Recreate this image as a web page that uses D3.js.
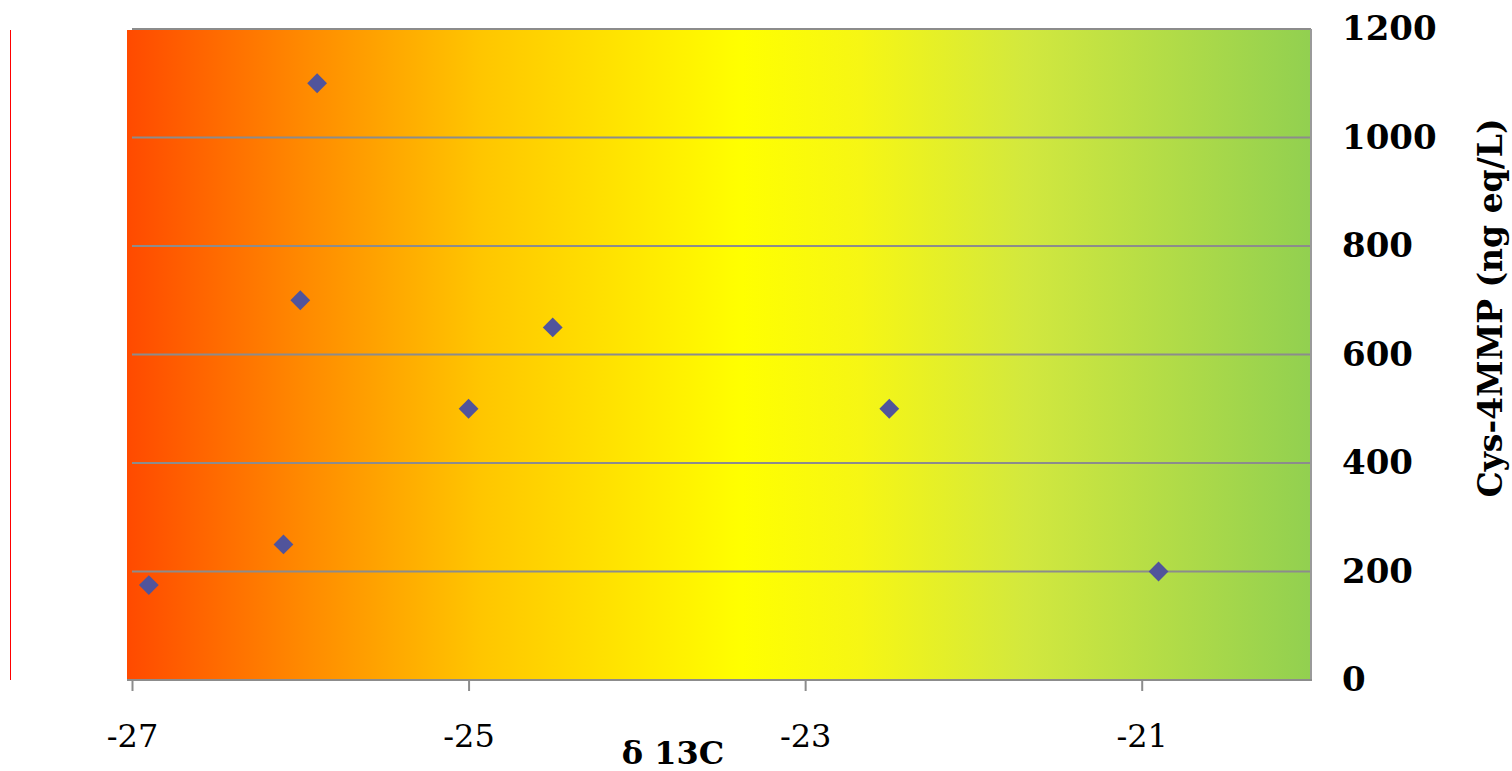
<!DOCTYPE html>
<html>
<head>
<meta charset="utf-8">
<script src="https://cdn.jsdelivr.net/npm/d3@7"></script>
<style>
  html, body { margin: 0; padding: 0; background: #fff; }
  svg { display: block; }
  text { font-family: "DejaVu Serif", serif; fill: #000; }
</style>
</head>
<body>
<svg id="chart" width="1512" height="771"></svg>
<script>
// δ13C versus Cys-4MMP concentration
const delta13C = [-26.9, -26.1, -25.9, -26.0, -25.0, -24.5, -22.5, -20.9];
const cys4mmp  = [175, 250, 1100, 700, 500, 650, 500, 200];
const xTicks = [-27, -25, -23, -21];
const yTicks = [0, 200, 400, 600, 800, 1000, 1200];
const xTitle = "δ 13C";
const yTitle = "Cys-4MMP (ng eq/L)";

const points = delta13C.map((d, i) => ({ x: d, y: cys4mmp[i] }));

const svg = d3.select("#chart");
const plotL = 132, plotR = 1310, plotT = 29, plotB = 680;

const x = d3.scaleLinear().domain([-27, -20]).range([plotL, plotR]);
const y = d3.scaleLinear().domain([0, 1200]).range([plotB, plotT]);

// background gradient: orange-red -> yellow -> green
const defs = svg.append("defs");
const grad = defs.append("linearGradient").attr("id", "bg")
  .attr("x1", "0%").attr("x2", "100%").attr("y1", "0%").attr("y2", "0%");
[
  [0, "#ff4a00"], [0.15, "#ff8a00"], [0.30, "#ffc600"],
  [0.52, "#ffff00"], [0.62, "#f6f614"], [0.76, "#d2e83e"], [1, "#92d050"]
].forEach(([o, c]) => grad.append("stop").attr("offset", o).attr("stop-color", c));

// stray red rule at far left
svg.append("line")
  .attr("x1", 10.5).attr("x2", 10.5).attr("y1", 30).attr("y2", 680)
  .attr("stroke", "#ff0000").attr("stroke-width", 1);

svg.append("rect")
  .attr("x", plotL - 5).attr("y", plotT + 1)
  .attr("width", plotR - plotL + 5).attr("height", plotB - plotT - 1)
  .attr("fill", "url(#bg)");

// horizontal gridlines
svg.append("g").selectAll("line")
  .data(yTicks.filter(t => t > 0))
  .join("line")
  .attr("x1", plotL).attr("x2", plotR + 1)
  .attr("y1", d => y(d)).attr("y2", d => y(d))
  .attr("stroke", "#8c8c8c").attr("stroke-width", 2);

// right border of plot area
svg.append("line")
  .attr("x1", plotR + 1).attr("x2", plotR + 1)
  .attr("y1", plotT).attr("y2", plotB)
  .attr("stroke", "#9a9a9a").attr("stroke-width", 2);

// x axis
const xAxis = d3.axisBottom(x).tickValues(xTicks).tickSize(11).tickPadding(33)
  .tickFormat(d => "-" + Math.abs(d));
const gx = svg.append("g").attr("transform", `translate(0,${plotB})`).call(xAxis);
gx.select(".domain").attr("d", `M${plotL - 5},0H${plotR + 2}`)
  .attr("stroke", "#8c8c8c").attr("stroke-width", 2);
gx.selectAll(".tick line").attr("stroke", "#8c8c8c").attr("stroke-width", 2);
gx.selectAll(".tick text")
  .attr("font-family", "DejaVu Serif").attr("font-size", 32).attr("fill", "#000");

// y axis labels on the right
const yAxis = d3.axisRight(y).tickValues(yTicks).tickSize(0).tickPadding(32)
  .tickFormat(d3.format("d"));
const gy = svg.append("g").attr("transform", `translate(${plotR},0)`).call(yAxis);
gy.select(".domain").remove();
gy.selectAll(".tick text")
  .attr("font-family", "DejaVu Serif").attr("font-weight", "bold")
  .attr("font-size", 34).attr("fill", "#000");

// axis titles
svg.append("text")
  .attr("x", 673).attr("y", 764)
  .attr("text-anchor", "middle")
  .attr("font-weight", "bold").attr("font-size", 32)
  .text(xTitle);

svg.append("text")
  .attr("transform", "translate(1502,308) rotate(-90)")
  .attr("text-anchor", "middle")
  .attr("font-weight", "bold").attr("font-size", 33)
  .text(yTitle);

// diamond markers
svg.append("g").selectAll("path")
  .data(points)
  .join("path")
  .attr("d", d3.symbol(d3.symbolSquare, 196))
  .attr("transform", d => `translate(${x(d.x)},${y(d.y)}) rotate(45)`)
  .attr("fill", "#51549b");
</script>
</body>
</html>
